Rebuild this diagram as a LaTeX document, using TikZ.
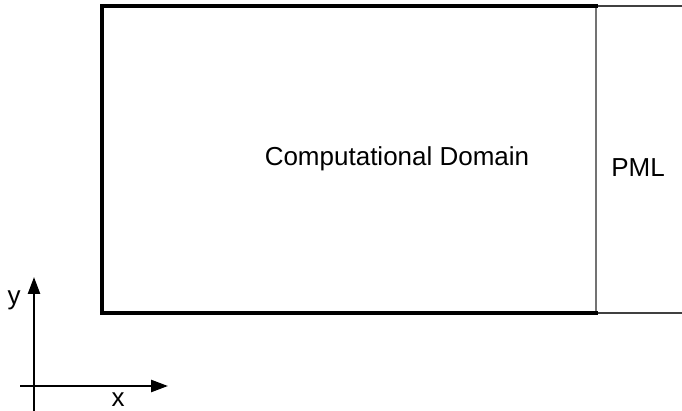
\documentclass[tikz,border=0pt]{standalone}
\usepackage{fontspec}
\setmainfont{Liberation Sans}
\usetikzlibrary{arrows.meta}
\begin{document}
\begin{tikzpicture}[x=1pt,y=1pt,
    wall/.style={line width=4pt,line cap=rect},
    pml/.style={line width=1.5pt,black!55},
    pmledge/.style={line width=1.3pt,black!75},
    axis/.style={line width=2.5pt,-{Triangle[length=17pt,width=12pt]}},
    label/.style={font=\fontsize{26}{30}\selectfont,inner sep=0pt}]
  \useasboundingbox (0,0) rectangle (682,411);
  \coordinate (tl) at (102,405);
  \coordinate (bl) at (102,98);
  \coordinate (tr) at (596,405);
  \coordinate (br) at (596,98);
  \coordinate (te) at (682,405);
  \coordinate (be) at (682,98);
  \draw [pmledge] (tr) -- (te);
  \draw [pmledge] (br) -- (be);
  \draw [pml] (tr) -- (br);
  \draw [wall] (tr) -- (tl) -- (bl) -- (br);
  \node [label] (domain) at (397,252) {Computational Domain};
  \node [label] (layer) at (638,243) {PML};
  \coordinate (ybot) at (34,0);
  \coordinate (ytip) at (34,134);
  \coordinate (xleft) at (20,25);
  \coordinate (xtip) at (168,25);
  \draw [axis] (ybot) -- (ytip);
  \draw [axis] (xleft) -- (xtip);
  \node [label] (ylab) at (14,111) {y};
  \node [label] (xlab) at (118,11) {x};
\end{tikzpicture}
\end{document}
